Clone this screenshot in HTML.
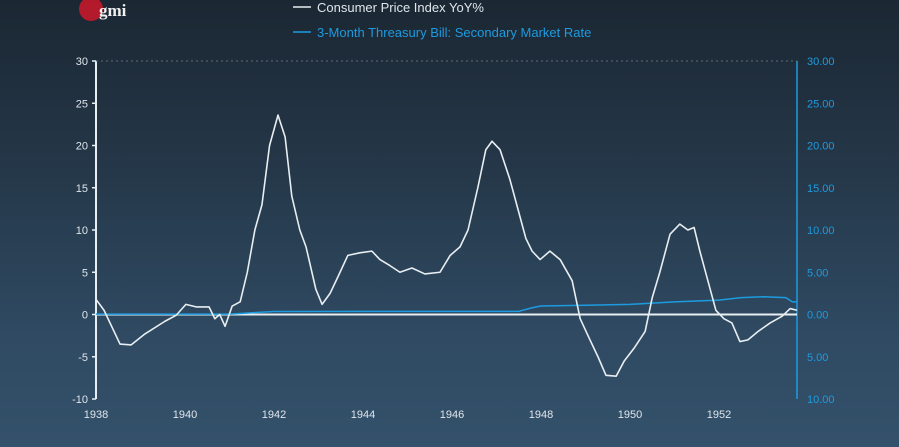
<!DOCTYPE html>
<html><head><meta charset="utf-8"><style>
html,body{margin:0;padding:0}
body{width:899px;height:447px;overflow:hidden;background:linear-gradient(180deg,#1b2733 0%,#243647 35%,#2f4a62 75%,#34516b 100%);font-family:"Liberation Sans",sans-serif}
svg{position:absolute;left:0;top:0}
</style></head><body>
<svg id="chart" width="899" height="447">
<g>
<circle cx="91" cy="9" r="12" fill="#c4182a" opacity="0.9"/>
<text x="99" y="16" fill="#f0f0f0" font-family="Liberation Serif,serif" font-size="17" font-weight="bold">gmi</text>
</g>
<g>
<line x1="293" y1="7" x2="311" y2="7" stroke="#e8eef2" stroke-width="1.5"/>
<text x="317" y="12" fill="#dfe6ec" font-size="13">Consumer Price Index YoY%</text>
<line x1="293" y1="32" x2="311" y2="32" stroke="#1d9be0" stroke-width="1.5"/>
<text x="317" y="37" fill="#1d9be0" font-size="13">3-Month Threasury Bill: Secondary Market Rate</text>
</g>
<g id="axes"></g>
<g id="series"></g>
</svg>
<script>
const cpiYears=[1938,1938.18,1938.54,1938.79,1939.1,1939.55,1939.8,1940.02,1940.25,1940.54,1940.67,1940.78,1940.9,1941.06,1941.24,1941.4,1941.57,1941.73,1941.9,1942.09,1942.25,1942.4,1942.58,1942.72,1942.94,1943.08,1943.26,1943.44,1943.66,1943.93,1944.2,1944.38,1944.6,1944.83,1945.1,1945.39,1945.73,1945.96,1946.18,1946.36,1946.58,1946.76,1946.9,1947.08,1947.3,1947.48,1947.66,1947.8,1947.98,1948.2,1948.43,1948.7,1948.88,1949.1,1949.28,1949.46,1949.69,1949.87,1950.09,1950.34,1950.5,1950.67,1950.9,1951.12,1951.3,1951.44,1951.57,1951.75,1951.93,1952.11,1952.29,1952.47,1952.65,1952.88,1953.15,1953.42,1953.6,1953.75];
const cpiValues=[1.8,0.5,-3.5,-3.6,-2.3,-0.8,-0.1,1.2,0.9,0.9,-0.5,0,-1.4,1,1.5,5,10,13,20,23.6,21,14,10,8,3,1.2,2.5,4.5,7,7.3,7.5,6.5,5.8,5,5.5,4.8,5,7,8,10,15,19.5,20.5,19.5,16,12.5,9,7.5,6.5,7.5,6.5,4,-0.5,-3,-5,-7.2,-7.3,-5.5,-4,-2,2,5,9.5,10.7,10,10.3,7.5,4,0.5,-0.5,-1,-3.2,-3,-2,-1,-0.2,0.7,0.5];
const tbYears=[1938,1941,1941.5,1942,1945,1947.5,1947.8,1948,1949,1950,1951,1952,1952.5,1953,1953.5,1953.65,1953.75];
const tbValues=[0.05,0.05,0.2,0.35,0.37,0.37,0.8,1.0,1.1,1.2,1.5,1.7,2.0,2.1,2.0,1.5,1.5];
const leftTicks=[30,25,20,15,10,5,0,-5,-10];
const rightTickLabels=["30.00","25.00","20.00","15.00","10.00","5.00","0.00","5.00","10.00"];
const xTicks=[1938,1940,1942,1944,1946,1948,1950,1952];
const NS="http://www.w3.org/2000/svg";
const X0=96,X1=797,Y0=61,Y1=399;
const xs=y=>X0+(y-1938)*44.5;
const ys=v=>Y0+(30-v)/40*(Y1-Y0);
function mk(t,a,p){const e=document.createElementNS(NS,t);for(const k in a)e.setAttribute(k,a[k]);p.appendChild(e);return e;}
const ax=document.getElementById('axes'),se=document.getElementById('series');
let e;
e=mk('line',{x1:X0,y1:Y0,x2:X0,y2:Y1,stroke:'#e8eef2','stroke-width':2},ax);


e=mk('line',{x1:X1,y1:Y0,x2:X1,y2:Y1,stroke:'#1d9be0','stroke-width':1.5},ax);


e=mk('line',{x1:X0,y1:Y0,x2:X1,y2:Y0,stroke:'#5a6b7a','stroke-width':1,'stroke-dasharray':'2 3'},ax);


leftTicks.forEach((v,i)=>{
  const y=ys(v);
  e=mk('line',{x1:X0-4,y1:y,x2:X0,y2:y,stroke:'#e8eef2','stroke-width':1.5},ax);
  
  
  e=mk('text',{x:X0-8,y:y+4,fill:'#dfe6ec','font-size':11,'text-anchor':'end'},ax);e.textContent=v;
  
  
  e=mk('text',{x:X1+10,y:y+4,fill:'#1d9be0','font-size':11},ax);e.textContent=rightTickLabels[i];
  
  
});
xTicks.forEach(t=>{
  e=mk('text',{x:xs(t),y:418,fill:'#dfe6ec','font-size':11,'text-anchor':'middle'},ax);e.textContent=t;
  
  
});
e=mk('line',{x1:X0,y1:ys(0),x2:X1,y2:ys(0),stroke:'#e8eef2','stroke-width':2},ax);


e=mk('polyline',{points:tbYears.map((y,i)=>xs(y)+','+ys(tbValues[i])).join(' '),fill:'none',stroke:'#1d9be0','stroke-width':1.5},se);


e=mk('polyline',{points:cpiYears.map((y,i)=>xs(y)+','+ys(cpiValues[i])).join(' '),fill:'none',stroke:'#e8eef2','stroke-width':1.6,'stroke-linejoin':'round'},se);


</script>
</body></html>
